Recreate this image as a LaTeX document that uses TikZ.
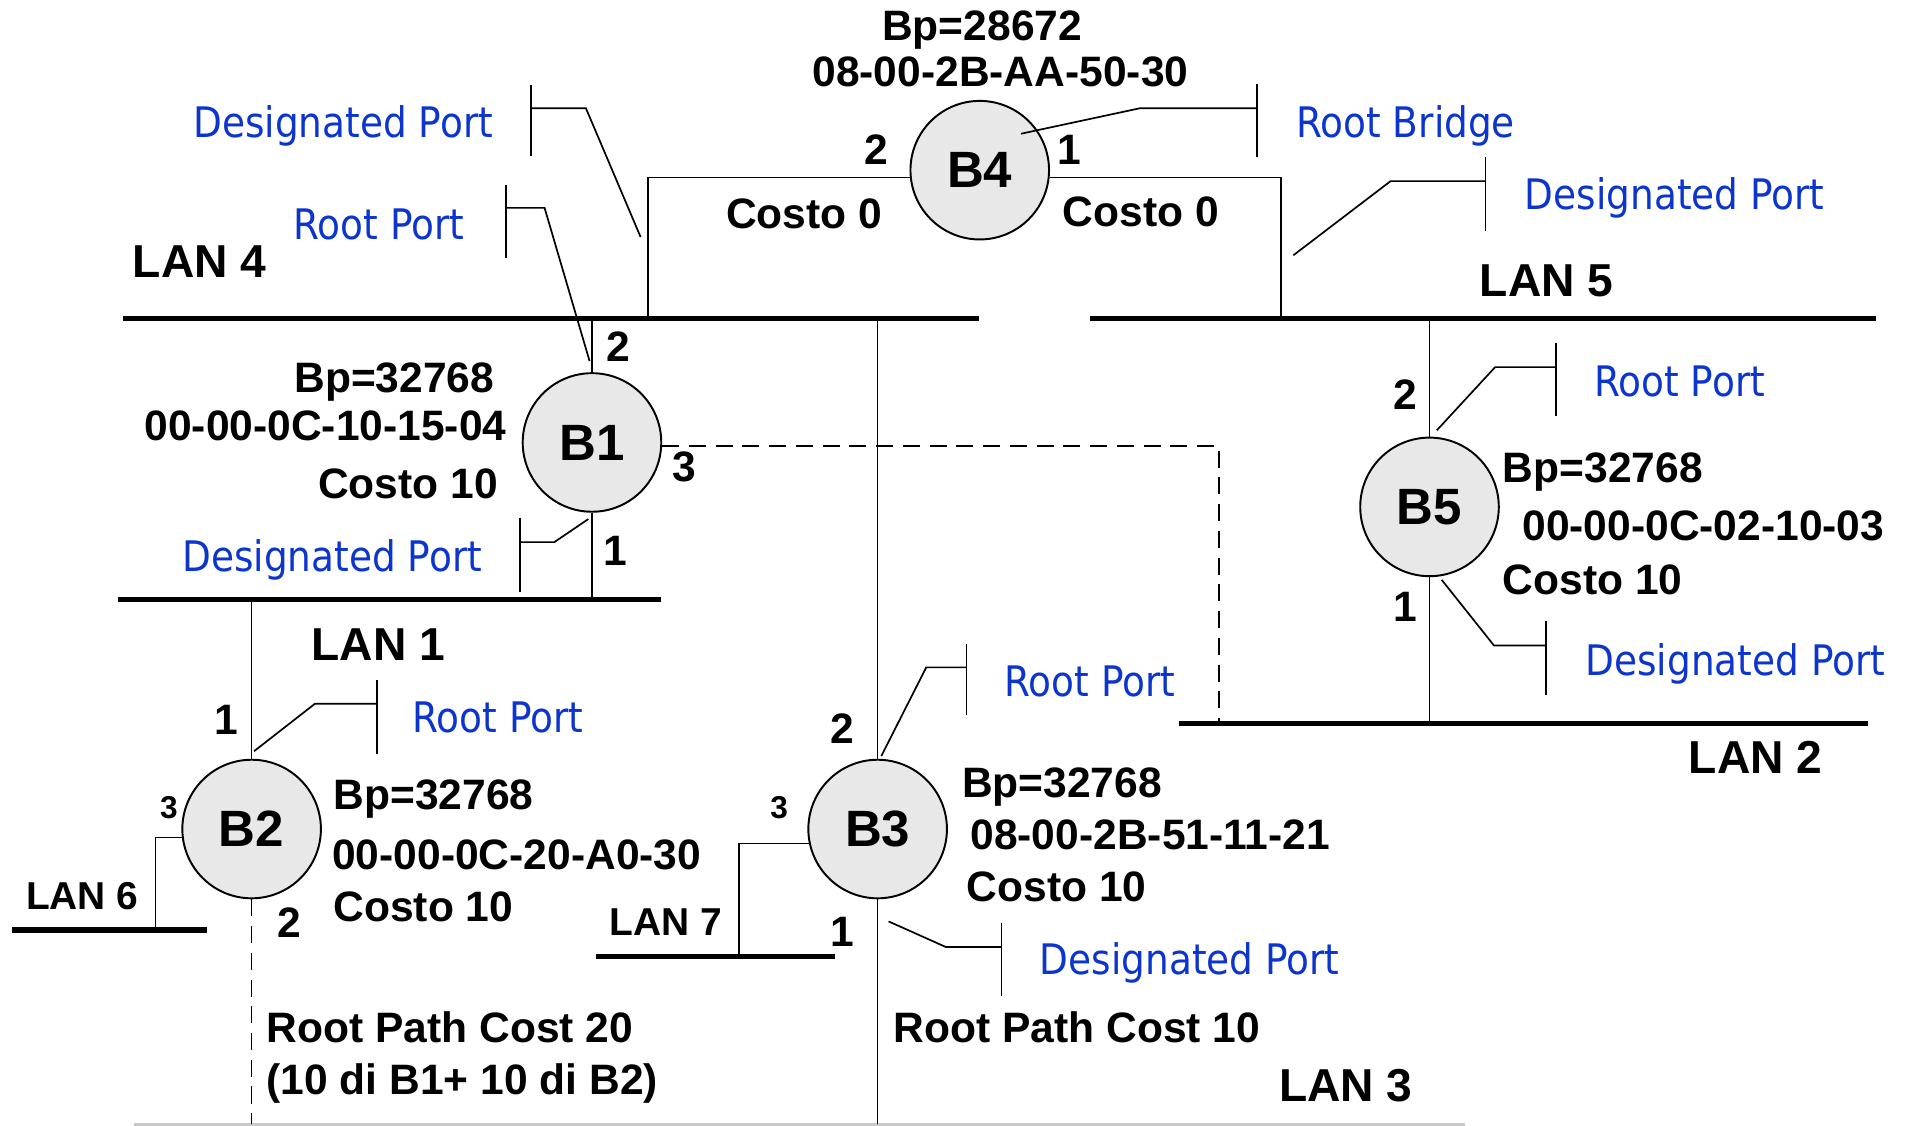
\documentclass[tikz,border=0pt]{standalone}
\usepackage{fontspec}
\setmainfont{Liberation Sans}
\newfontfamily\bluefont{DejaVu Sans}[FakeStretch=0.89]
\definecolor{lblue}{RGB}{12,52,206}
\definecolor{bfill}{RGB}{232,232,232}
\definecolor{lgray}{RGB}{200,200,200}
\tikzset{
 lanbar/.style={line width=2.2pt},
 wire/.style={line width=0.7pt},
 dwire/.style={line width=0.7pt, dash pattern=on 7pt off 4pt},
 bridge/.style={circle, draw, line width=0.8pt, fill=bfill, minimum size=57pt, inner sep=0pt, font=\bfseries\fontsize{21}{24}\selectfont},
 txt/.style={inner sep=0pt, font=\bfseries\fontsize{17.5}{20}\selectfont},
 lantxt/.style={inner sep=0pt, font=\bfseries\fontsize{19}{22}\selectfont},
 lansm/.style={inner sep=0pt, font=\bfseries\fontsize{16}{19}\selectfont},
 portsm/.style={inner sep=0pt, font=\bfseries\fontsize{13}{15}\selectfont},
 note/.style={inner sep=0pt, text=lblue, font=\bluefont\fontsize{17.3}{20}\selectfont},
 callout/.style={line width=0.7pt},
}
\begin{document}
\begin{tikzpicture}[x=0.5pt,y=-0.5pt]
\useasboundingbox (0,0) rectangle (1568,926);

% LAN bars
\coordinate (lan4a) at (101,262); \coordinate (lan4b) at (805,262);
\coordinate (lan5a) at (897,262); \coordinate (lan5b) at (1543,262);
\coordinate (lan1a) at (97,493);  \coordinate (lan1b) at (544,493);
\coordinate (lan2a) at (970,595); \coordinate (lan2b) at (1537,595);
\coordinate (lan6a) at (10,765);  \coordinate (lan6b) at (170,765);
\coordinate (lan7a) at (490,787); \coordinate (lan7b) at (687,787);
\coordinate (lan3a) at (110,925); \coordinate (lan3b) at (1205,925);
\draw[lanbar] (lan4a) -- (lan4b);
\draw[lanbar] (lan5a) -- (lan5b);
\draw[lanbar] (lan1a) -- (lan1b);
\draw[lanbar] (lan2a) -- (lan2b);
\draw[lanbar] (lan6a) -- (lan6b);
\draw[lanbar] (lan7a) -- (lan7b);
\draw[line width=1pt, lgray] (lan3a) -- (lan3b);

% bridges
\node[bridge] (B4) at (806,140) {B4};
\node[bridge] (B1) at (487,364) {B1};
\node[bridge] (B5) at (1176,417) {B5};
\node[bridge] (B2) at (207,682) {B2};
\node[bridge] (B3) at (722,682) {B3};

% attachment points
\coordinate (c4l) at (533,262);
\coordinate (c4r) at (1054,262);
\coordinate (c1d) at (1003,595);
\coordinate (c2l) at (128,765);
\coordinate (c3l) at (608,787);

% connectors
\draw[wire] (B4.186) -| (c4l);
\draw[wire] (B4.-6) -| (c4r);
\draw[wire] (B1.north) -- (B1.north |- lan4a);
\draw[wire] (B1.south) -- (B1.south |- lan1a);
\draw[dwire] (B1.-3) -| (c1d);
\draw[wire] (B5.north) -- (B5.north |- lan5a);
\draw[wire] (B5.south) -- (B5.south |- lan2a);
\draw[wire] (B3.north) -- (B3.north |- lan4a);
\draw[wire] (B3.south) -- (B3.south |- lan3a);
\draw[wire] (B3.192) -| (c3l);
\draw[wire] (B2.north) -- (B2.north |- lan1a);
\draw[dwire] (B2.south) -- (B2.south |- lan3a);
\draw[wire] (B2.187) -| (c2l);

% callouts
\coordinate (k1a) at (840,110); \coordinate (k1b) at (938,89); \coordinate (k1c) at (1034,89);
\coordinate (k1t) at (1034,69); \coordinate (k1u) at (1034,129);
\draw[callout] (k1a) -- (k1b) -- (k1c); \draw[callout] (k1t) -- (k1u);

\coordinate (k2a) at (527,195); \coordinate (k2b) at (482,89); \coordinate (k2c) at (437,89);
\coordinate (k2t) at (437,70); \coordinate (k2u) at (437,128);
\draw[callout] (k2a) -- (k2b) -- (k2c); \draw[callout] (k2t) -- (k2u);

\coordinate (k3a) at (1064,210); \coordinate (k3b) at (1144,149); \coordinate (k3c) at (1222,149);
\coordinate (k3t) at (1222,129); \coordinate (k3u) at (1222,190);
\draw[callout] (k3a) -- (k3b) -- (k3c); \draw[callout] (k3t) -- (k3u);

\coordinate (k4a) at (485,297); \coordinate (k4b) at (448,171); \coordinate (k4c) at (416,171);
\coordinate (k4t) at (416,152); \coordinate (k4u) at (416,212);
\draw[callout] (k4a) -- (k4b) -- (k4c); \draw[callout] (k4t) -- (k4u);

\coordinate (k5a) at (484,427); \coordinate (k5b) at (456,446); \coordinate (k5c) at (428,446);
\coordinate (k5t) at (428,426); \coordinate (k5u) at (428,487);
\draw[callout] (k5a) -- (k5b) -- (k5c); \draw[callout] (k5t) -- (k5u);

\coordinate (k6a) at (1182,354); \coordinate (k6b) at (1230,302); \coordinate (k6c) at (1280,302);
\coordinate (k6t) at (1280,282); \coordinate (k6u) at (1280,342);
\draw[callout] (k6a) -- (k6b) -- (k6c); \draw[callout] (k6t) -- (k6u);

\coordinate (k7a) at (1186,477); \coordinate (k7b) at (1229,531); \coordinate (k7c) at (1272,531);
\coordinate (k7t) at (1272,511); \coordinate (k7u) at (1272,572);
\draw[callout] (k7a) -- (k7b) -- (k7c); \draw[callout] (k7t) -- (k7u);

\coordinate (k8a) at (209,618); \coordinate (k8b) at (259,579); \coordinate (k8c) at (310,579);
\coordinate (k8t) at (310,559); \coordinate (k8u) at (310,620);
\draw[callout] (k8a) -- (k8b) -- (k8c); \draw[callout] (k8t) -- (k8u);

\coordinate (k9a) at (725,622); \coordinate (k9b) at (762,549); \coordinate (k9c) at (795,549);
\coordinate (k9t) at (795,530); \coordinate (k9u) at (795,588);
\draw[callout] (k9a) -- (k9b) -- (k9c); \draw[callout] (k9t) -- (k9u);

\coordinate (kAa) at (731,758); \coordinate (kAb) at (778,779); \coordinate (kAc) at (824,779);
\coordinate (kAt) at (824,759); \coordinate (kAu) at (824,819);
\draw[callout] (kAa) -- (kAb) -- (kAc); \draw[callout] (kAt) -- (kAu);

% blue notes
\node[note, anchor=base east] (n1) at (406,113) {Designated Port};
\node[note, anchor=base west] (n2) at (1066,113) {Root Bridge};
\node[note, anchor=base west] (n3) at (1254,172) {Designated Port};
\node[note, anchor=base west] (n4) at (241,197) {Root Port};
\node[note, anchor=base east] (n5) at (397,470) {Designated Port};
\node[note, anchor=base west] (n6) at (1311,326) {Root Port};
\node[note, anchor=base west] (n7) at (1304,556) {Designated Port};
\node[note, anchor=base west] (n8) at (339,603) {Root Port};
\node[note, anchor=base west] (n9) at (826,573) {Root Port};
\node[note, anchor=base west] (n10) at (855,802) {Designated Port};

% bridge info
\node[txt, anchor=base] (t4a) at (808,33) {Bp=28672};
\node[txt, anchor=base] (t4b) at (823,71) {08-00-2B-AA-50-30};
\node[txt, anchor=base west] (t4c) at (597,188) {Costo 0};
\node[txt, anchor=base west] (t4d) at (874,186) {Costo 0};

\node[txt, anchor=base east] (t1a) at (407,323) {Bp=32768};
\node[txt, anchor=base east] (t1b) at (417,362) {00-00-0C-10-15-04};
\node[txt, anchor=base east] (t1c) at (410,410) {Costo 10};

\node[txt, anchor=base west] (t5a) at (1236,397) {Bp=32768};
\node[txt, anchor=base west] (t5b) at (1252,445) {00-00-0C-02-10-03};
\node[txt, anchor=base west] (t5c) at (1236,489) {Costo 10};

\node[txt, anchor=base west] (t2a) at (274,666) {Bp=32768};
\node[txt, anchor=base west] (t2b) at (273,715) {00-00-0C-20-A0-30};
\node[txt, anchor=base west] (t2c) at (274,758) {Costo 10};

\node[txt, anchor=base west] (t3a) at (791,656) {Bp=32768};
\node[txt, anchor=base west] (t3b) at (798,699) {08-00-2B-51-11-21};
\node[txt, anchor=base west] (t3c) at (795,742) {Costo 10};

\node[txt, anchor=base west] (r20a) at (219,858) {Root Path Cost 20};
\node[txt, anchor=base west] (r20b) at (219,900) {(10 di B1+ 10 di B2)};
\node[txt, anchor=base west] (r10) at (735,858) {Root Path Cost 10};

% port numbers
\node[txt, anchor=base] (p42) at (721,135) {2};
\node[txt, anchor=base] (p41) at (880,135) {1};
\node[txt, anchor=base] (p12) at (509,297) {2};
\node[txt, anchor=base] (p13) at (563,396) {3};
\node[txt, anchor=base] (p11) at (506,465) {1};
\node[txt, anchor=base] (p52) at (1156,337) {2};
\node[txt, anchor=base] (p51) at (1156,511) {1};
\node[txt, anchor=base] (p21) at (186,604) {1};
\node[txt, anchor=base] (p32) at (693,612) {2};
\node[portsm, anchor=base] (p23) at (139,673) {3};
\node[portsm, anchor=base] (p33) at (641,673) {3};
\node[txt, anchor=base] (p22) at (238,771) {2};
\node[txt, anchor=base] (p31) at (693,779) {1};

% LAN labels
\node[lantxt, anchor=base west] (l4) at (109,228) {LAN 4};
\node[lantxt, anchor=base west] (l5) at (1217,244) {LAN 5};
\node[lantxt, anchor=base west] (l1) at (256,543) {LAN 1};
\node[lantxt, anchor=base west] (l2) at (1389,636) {LAN 2};
\node[lantxt, anchor=base west] (l3) at (1052,906) {LAN 3};
\node[lansm, anchor=base west] (l6) at (21,748) {LAN 6};
\node[lansm, anchor=base west] (l7) at (501,770) {LAN 7};
\end{tikzpicture}
\end{document}
